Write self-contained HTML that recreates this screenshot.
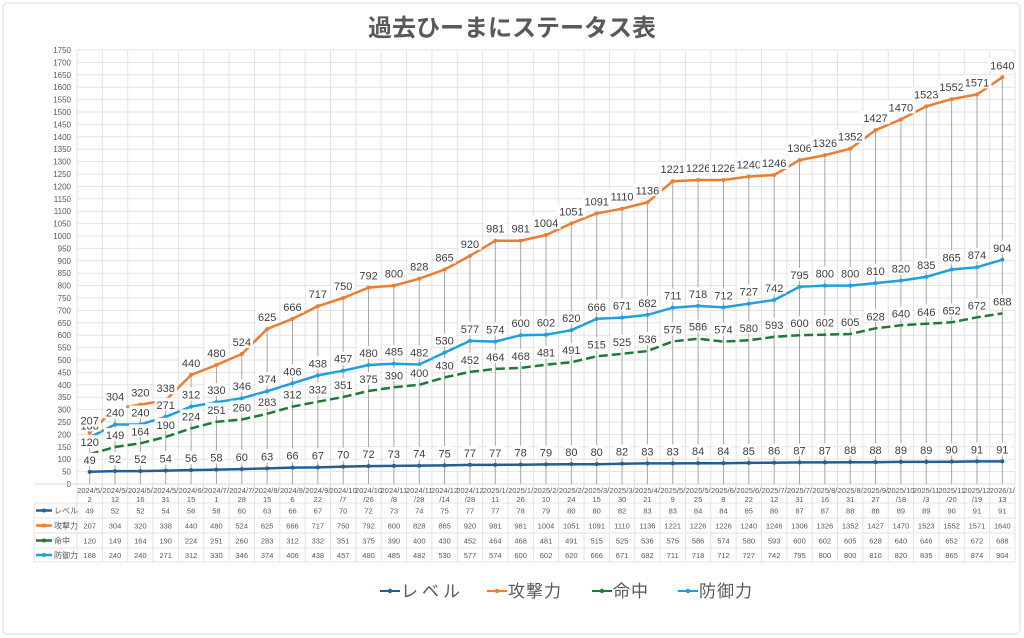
<!DOCTYPE html>
<html><head><meta charset="utf-8"><style>
html,body{margin:0;padding:0;background:#fff;}
svg{display:block;font-family:"Liberation Sans","Noto Sans CJK JP",sans-serif;}
</style></head><body>
<svg id="c" width="1024" height="638" xmlns="http://www.w3.org/2000/svg"></svg>
<script>
const D=[["2024/5/2",49,207,120,188],["2024/5/12",52,304,149,240],["2024/5/16",52,320,164,240],["2024/5/31",54,338,190,271],["2024/6/15",56,440,224,312],["2024/7/1",58,480,251,330],["2024/7/28",60,524,260,346],["2024/8/15",63,625,283,374],["2024/9/6",66,666,312,406],["2024/9/22",67,717,332,438],["2024/10/7",70,750,351,457],["2024/10/26",72,792,375,480],["2024/11/8",73,800,390,485],["2024/11/28",74,828,400,482],["2024/12/14",75,865,430,530],["2024/12/28",77,920,452,577],["2025/1/11",77,981,464,574],["2025/1/26",78,981,468,600],["2025/2/10",79,1004,481,602],["2025/2/24",80,1051,491,620],["2025/3/15",80,1091,515,666],["2025/3/30",82,1110,525,671],["2025/4/21",83,1136,536,682],["2025/5/9",83,1221,575,711],["2025/5/25",84,1226,586,718],["2025/6/8",84,1226,574,712],["2025/6/22",85,1240,580,727],["2025/7/12",86,1246,593,742],["2025/7/31",87,1306,600,795],["2025/8/16",87,1326,602,800],["2025/8/31",88,1352,605,800],["2025/9/27",88,1427,628,810],["2025/10/18",89,1470,640,820],["2025/11/3",89,1523,646,835],["2025/11/20",90,1552,652,865],["2025/12/19",91,1571,672,874],["2026/1/13",91,1640,688,904]];
const L=77,R=1015,N=D.length,W=(R-L)/N,Y0=484,K=434/1750;
const X=i=>L+W*(i+.5),Y=v=>Y0-v*K;
let s='<rect x="3" y="3" width="1017" height="631" rx="4" fill="#fff" stroke="#d9d9d9"/>';
s+='<text x="512" y="36" text-anchor="middle" font-size="24" font-weight="bold" fill="#595959">過去ひーまにステータス表</text>';
for(let v=0;v<=1750;v+=50){const y=Y(v);s+=`<line x1="${L}" x2="${R}" y1="${y}" y2="${y}" stroke="#e3e3e3"/>`;s+=`<text x="71" y="${y+3}" text-anchor="end" font-size="8" fill="#595959">${v}</text>`;}
for(let i=0;i<=N;i++){const x=L+W*i;s+=`<line x1="${x}" x2="${x}" y1="${Y(1750)}" y2="562" stroke="#e3e3e3"/>`;}
const rows=[503,518,533,548,562];
s+=`<line x1="34" x2="${R}" y1="${Y0}" y2="${Y0}" stroke="#d9d9d9"/>`;
rows.forEach(y=>s+=`<line x1="34" x2="${R}" y1="${y}" y2="${y}" stroke="#e3e3e3"/>`);
s+=`<line x1="34" x2="34" y1="503" y2="562" stroke="#e3e3e3"/>`;
D.forEach((d,i)=>s+=`<line x1="${X(i)}" x2="${X(i)}" y1="${Y(d[2])}" y2="${Y0}" stroke="#a6a6a6" stroke-width="1"/>`);
const C=["#255e91","#ed7d31","#1e7b34","#1ea0e0"];
function path(k){return D.map((d,i)=>(i?'L':'M')+X(i).toFixed(1)+' '+Y(d[k]).toFixed(1)).join(' ');}
s+=`<path d="${path(3)}" fill="none" stroke="${C[2]}" stroke-width="2.5" stroke-dasharray="9 4"/>`;
s+=`<path d="${path(1)}" fill="none" stroke="${C[0]}" stroke-width="2.5"/>`;
s+=`<path d="${path(2)}" fill="none" stroke="${C[1]}" stroke-width="2.5"/>`;
s+=`<path d="${path(4)}" fill="none" stroke="${C[3]}" stroke-width="2.5"/>`;
D.forEach((d,i)=>{[1,2,4].forEach(k=>s+=`<circle cx="${X(i)}" cy="${Y(d[k])}" r="2" fill="${C[k-1]}"/>`);});
function lab(k){D.forEach((d,i)=>{const x=X(i),y=Y(d[k])-8;const w=String(d[k]).length*6.5+3;s+=`<rect x="${x-w/2}" y="${y-11}" width="${w}" height="13" fill="#fff"/><text x="${x}" y="${y}" text-anchor="middle" font-size="11" fill="#404040">${d[k]}</text>`;});}
lab(1);lab(3);lab(4);lab(2);
D.forEach((d,i)=>{const t=d[0],a=t.slice(0,7),b=t.slice(7);s+=`<text x="${X(i)}" y="493" text-anchor="middle" font-size="7.5" fill="#595959">${a}</text><text x="${X(i)}" y="502" text-anchor="middle" font-size="7.5" fill="#595959">${b}</text>`;});
const names=["レベル","攻撃力","命中","防御力"];
names.forEach((n,r)=>{const y=(rows[r]+rows[r+1])/2;s+=`<line x1="36" x2="52" y1="${y}" y2="${y}" stroke="${C[r]}" stroke-width="2.5"/><circle cx="44" cy="${y}" r="2" fill="${C[r]}"/><text x="54" y="${y+3}" font-size="8" fill="#595959">${n}</text>`;
D.forEach((d,i)=>s+=`<text x="${X(i)}" y="${y+3}" text-anchor="middle" font-size="7.5" fill="#595959">${d[r+1]}</text>`);});
const lg=[[380,"レベル",4],[487,"攻撃力",1],[592,"命中",1],[678,"防御力",1]];
lg.forEach(([x,n,ls],r)=>{s+=`<line x1="${x}" x2="${x+20}" y1="591" y2="591" stroke="${C[r]}" stroke-width="2"/><circle cx="${x+10}" cy="591" r="2.2" fill="${C[r]}"/><text x="${x+21}" y="597" font-size="17" letter-spacing="${ls}" fill="#595959">${n}</text>`;});
document.getElementById('c').innerHTML=s;
</script>
</body></html>
